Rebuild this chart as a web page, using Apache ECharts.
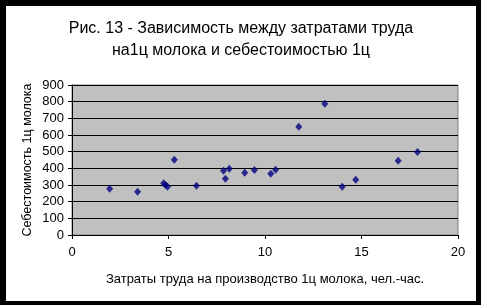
<!DOCTYPE html>
<html>
<head>
<meta charset="utf-8">
<script src="https://cdn.jsdelivr.net/npm/echarts@6/dist/echarts.min.js"></script>
<style>
html,body{margin:0;padding:0;background:#000;}
#frame{position:absolute;left:0;top:0;width:481px;height:305px;background:#000;}
#chart{position:absolute;left:6px;top:6px;width:470px;height:295px;background:#fff;}
</style>
</head>
<body>
<div id="frame"><div id="chart"></div></div>
<script>
const titleText = 'Рис. 13 - Зависимость между затратами труда\nна1ц молока и себестоимостью 1ц';
const xAxisName = 'Затраты труда на производство 1ц молока, чел.-час.';
const yAxisName = 'Себестоимость 1ц молока';
const laborCost = [1.95, 3.4, 4.75, 4.85, 4.95, 5.3, 6.45, 7.85, 7.95, 8.15, 8.95, 9.45, 10.3, 10.55, 11.75, 13.1, 14.0, 14.7, 16.9, 17.9];
const unitCost = [277, 260, 310, 300, 290, 452, 296, 385, 338, 398, 374, 390, 368, 392, 650, 788, 290, 332, 445, 498];

const font = '"Liberation Sans", Arial, sans-serif';
const chart = echarts.init(document.getElementById('chart'), null, {renderer: 'canvas'});
chart.setOption({
  animation: false,
  backgroundColor: '#ffffff',
  title: {
    text: titleText,
    left: 'center',
    top: 7,
    textStyle: {fontFamily: font, fontSize: 16, fontWeight: 'normal', color: '#000', lineHeight: 22}
  },
  grid: {
    left: 66, top: 79, width: 386, height: 150,
    show: true, backgroundColor: '#c0c0c0', borderColor: '#808080', borderWidth: 1
  },
  xAxis: {
    type: 'value', min: 0, max: 20, interval: 5,
    name: xAxisName, nameLocation: 'middle', nameGap: 38, nameMoveOverlap: false,
    nameTextStyle: {fontFamily: font, fontSize: 13, color: '#000'},
    axisLine: {show: true, onZero: false, lineStyle: {color: '#000', width: 1}},
    axisTick: {show: true, inside: false, length: 4, lineStyle: {color: '#000'}},
    axisLabel: {fontFamily: font, fontSize: 13, color: '#000', margin: 11},
    splitLine: {show: false}
  },
  yAxis: {
    type: 'value', min: 0, max: 900, interval: 100,
    name: yAxisName, nameLocation: 'middle', nameGap: 38, nameMoveOverlap: false,
    nameTextStyle: {fontFamily: font, fontSize: 12.5, color: '#000'},
    axisLine: {show: true, lineStyle: {color: '#000', width: 1}},
    axisTick: {show: true, inside: false, length: 4, lineStyle: {color: '#000'}},
    axisLabel: {fontFamily: font, fontSize: 13, color: '#000', margin: 8},
    splitLine: {show: true, lineStyle: {color: '#000', width: 1}}
  },
  series: [{
    type: 'scatter',
    data: laborCost.map((x, i) => [x, unitCost[i]]),
    symbol: 'diamond',
    symbolSize: [7, 8],
    itemStyle: {color: '#000080'}
  }]
});
</script>
</body>
</html>
